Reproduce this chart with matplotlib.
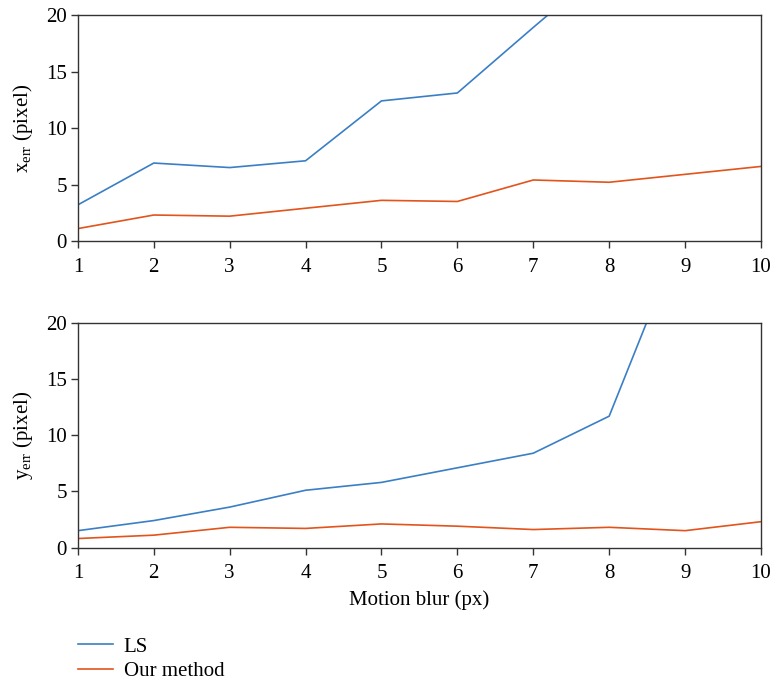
import matplotlib
matplotlib.use("Agg")
import matplotlib.pyplot as plt

plt.rcParams['font.family'] = ['Liberation Serif', 'DejaVu Serif']
plt.rcParams['mathtext.fontset'] = 'custom'
plt.rcParams['mathtext.rm'] = 'Liberation Serif'
plt.rcParams['mathtext.it'] = 'Liberation Serif:italic'

# Data (values above 20 are clipped in the chart)
blur = [1, 2, 3, 4, 5, 6, 7, 8, 9, 10]
x_err_ls = [3.2, 6.9, 6.5, 7.1, 12.4, 13.1, 18.9, 24.6, 30.0, 36.0]
x_err_ours = [1.1, 2.3, 2.2, 2.9, 3.6, 3.5, 5.4, 5.2, 5.9, 6.6]
y_err_ls = [1.5, 2.4, 3.6, 5.1, 5.8, 7.1, 8.4, 11.7, 28.6, 40.0]
y_err_ours = [0.8, 1.1, 1.8, 1.7, 2.1, 1.9, 1.6, 1.8, 1.5, 2.3]

blue = '#3a7fc6'
orange = '#e2541c'
spine_col = '#333333'
fs = 15

fig = plt.figure(figsize=(7.71, 6.82), dpi=100)
ax1 = fig.add_axes([0.101, 0.6466, 0.886, 0.3314])
ax2 = fig.add_axes([0.101, 0.1972, 0.886, 0.3292])

for ax, ls_vals, our_vals, lab in [
    (ax1, x_err_ls, x_err_ours, r'x$_\mathrm{err}$ (pixel)'),
    (ax2, y_err_ls, y_err_ours, r'y$_\mathrm{err}$ (pixel)'),
]:
    ax.plot(blur, ls_vals, color=blue, lw=1.2, label='LS')
    ax.plot(blur, our_vals, color=orange, lw=1.2, label='Our method')
    ax.set_xlim(1, 10)
    ax.set_ylim(0, 20)
    ax.set_xticks(blur)
    ax.set_yticks([0, 5, 10, 15, 20])
    ax.set_ylabel(lab, fontsize=fs, labelpad=8)
    ax.tick_params(axis='both', labelsize=fs, direction='out', length=5,
                   width=1, color=spine_col, top=False, right=False)
    ax.tick_params(axis='x', pad=7)
    ax.tick_params(axis='y', pad=3)
    for s in ax.spines.values():
        s.set_color(spine_col)
        s.set_linewidth(1)

ax2.set_xlabel('Motion blur (px)', fontsize=fs, labelpad=5)

handles, labels = ax1.get_legend_handles_labels()
fig.legend(handles, labels, loc='upper left', bbox_to_anchor=(0.101, 0.066),
           frameon=False, fontsize=fs, handlelength=1.7, handletextpad=0.5,
           labelspacing=0.25, borderpad=0, borderaxespad=0)

fig.savefig('out.png', dpi=100)
